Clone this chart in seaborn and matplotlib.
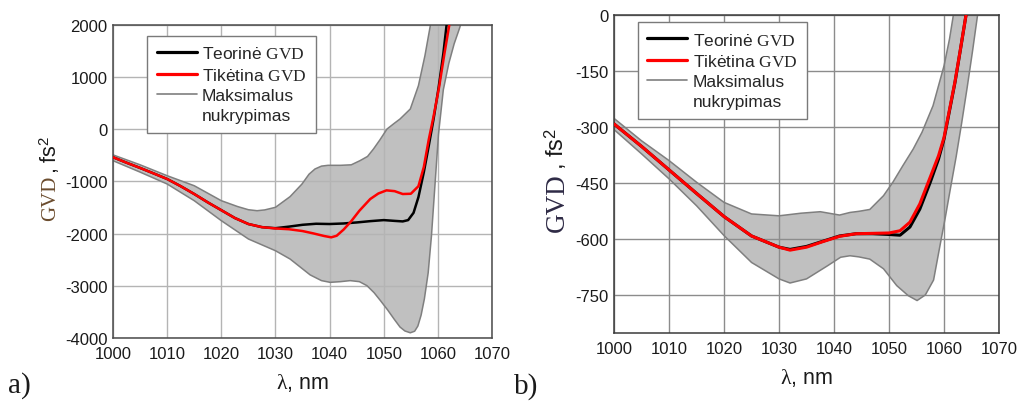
import numpy as np
import matplotlib
matplotlib.use("Agg")
import matplotlib.pyplot as plt
from matplotlib.lines import Line2D
from matplotlib.ticker import MultipleLocator
import seaborn as sns

# ---------------- data: panel a) ----------------
wl_a_theory = [1000, 1002.5, 1005, 1007.5, 1010, 1012.5, 1015, 1017.5, 1020, 1022.5, 1025, 1027.5,
               1030, 1032.5, 1035, 1037.5, 1040, 1042.5, 1045, 1047.5, 1050, 1052, 1053.5, 1054.5,
               1055.5, 1056.4, 1057.4, 1058.3, 1059.2, 1060.1, 1061, 1061.6, 1062.5]
gvd_a_theory = [-535, -640, -740, -845, -952, -1090, -1240, -1400, -1550, -1700, -1815, -1875,
                -1895, -1865, -1830, -1810, -1815, -1805, -1785, -1760, -1740, -1755, -1765, -1740,
                -1600, -1300, -820, -320, 200, 780, 1450, 2000, 2900]

wl_a_expected = [1000, 1002.5, 1005, 1007.5, 1010, 1012.5, 1015, 1017.5, 1020, 1022.5, 1025, 1027.5,
                 1030, 1032.5, 1035, 1037, 1039, 1040.3, 1041.3, 1042.6, 1044, 1045.5, 1047.5, 1049,
                 1050.5, 1052, 1053.5, 1055, 1056.4, 1057.4, 1058.3, 1059.2, 1060.2, 1061.2, 1062.1,
                 1063]
gvd_a_expected = [-535, -640, -740, -845, -952, -1090, -1240, -1400, -1550, -1700, -1815, -1875,
                  -1900, -1915, -1950, -1995, -2045, -2070, -2040, -1920, -1760, -1560, -1336, -1230,
                  -1170, -1185, -1240, -1235, -1090, -720, -200, 250, 800, 1450, 2000,
                  2800]

wl_a_upper = [1000, 1005, 1010, 1015, 1020, 1023, 1025, 1026.6, 1028, 1030, 1032.7, 1034.9, 1036.2,
              1037.3, 1038.5, 1039.7, 1042, 1044, 1045.6, 1047, 1048.1, 1049.3, 1050.6, 1052, 1053,
              1054.9, 1056.4, 1057.6, 1058.6, 1059.3]
gvd_a_upper = [-490, -680, -889, -1081, -1368, -1480, -1541, -1560, -1545, -1495, -1290, -1048, -860,
               -760, -705, -690, -690, -680, -601, -520, -377, -200, 6, 120, 198,
               390, 837, 1411, 1990, 2600]

wl_a_lower = [1000, 1005, 1010, 1015, 1020, 1025, 1030, 1032.7, 1036.4, 1038.5, 1040.1, 1042, 1043.8,
              1045.5, 1046.9, 1048.2, 1049.4, 1050.7, 1051.9, 1053, 1053.9, 1054.9, 1055.7, 1056.3,
              1056.9, 1057.5, 1058.2, 1058.8, 1059.4, 1060.1, 1061, 1062, 1063, 1064, 1065]
gvd_a_lower = [-601, -820, -1048, -1368, -1751, -2102, -2327, -2486, -2790, -2900, -2933, -2920, -2900,
               -2920, -2997, -3130, -3285, -3460, -3636, -3790, -3865, -3900, -3870, -3770,
               -3560, -3250, -2750, -2050, -1150, -100, 760, 1260, 1640, 1940, 2300]

# ---------------- data: panel b) ----------------
wl_b_lines = [1000, 1005, 1010, 1015, 1020, 1025, 1030, 1032, 1035, 1038, 1041, 1044, 1047, 1050,
              1052, 1053.8, 1055.6, 1057.5, 1059, 1060, 1062, 1063, 1064, 1065]
gvd_b_theory = [-292, -352, -415, -478, -540, -592, -622, -628, -620, -606, -592, -586, -586, -588,
                -590, -568, -520, -448, -386, -332, -180, -91, 0, 95]
gvd_b_expected = [-292, -352, -415, -478, -540, -592, -622, -630, -622, -607, -593, -586, -585, -584,
                  -578, -555, -506, -434, -377, -328, -178, -90, 0, 92]

wl_b_upper = [1000, 1005, 1010, 1015, 1020, 1025, 1030, 1034, 1037.5, 1041, 1042.9, 1044.5, 1046.5,
              1049, 1050.7, 1052.5, 1054.4, 1056, 1058, 1060, 1061, 1061.7, 1062.5]
gvd_b_upper = [-277, -337, -390, -448, -502, -533, -538, -531, -527, -536, -529, -526, -521,
               -484, -448, -404, -359, -314, -243, -136, -64, 0, 80]

wl_b_lower = [1000, 1005, 1010, 1015, 1020, 1025, 1030, 1032, 1035, 1038.8, 1041.2, 1042.9, 1044.5,
              1046.5, 1049, 1051.4, 1053.5, 1055.1, 1056.6, 1058.1, 1059.3, 1060.2, 1061.1, 1062.2,
              1063.2, 1064.2, 1065.2, 1066.1, 1067]
gvd_b_lower = [-307, -372, -439, -511, -591, -663, -707, -718, -707, -672, -649, -645, -648,
               -654, -680, -725, -752, -765, -750, -710, -615, -545, -470, -380,
               -290, -195, -95, 0, 100]

x_ticks = [1000, 1010, 1020, 1030, 1040, 1050, 1060, 1070]
legend_labels = ["Teorinė $\\mathrm{GVD}$", "Tikėtina $\\mathrm{GVD}$", "Maksimalus", "nukrypimas"]

# ---------------- style ----------------
sns.set_style("white")
plt.rcParams["font.family"] = ["Liberation Sans", "DejaVu Sans"]
plt.rcParams["mathtext.fontset"] = "custom"
plt.rcParams["mathtext.rm"] = "Liberation Serif"
plt.rcParams["mathtext.it"] = "Liberation Serif:italic"
plt.rcParams["mathtext.bf"] = "Liberation Serif:bold"
plt.rcParams["mathtext.sf"] = "Liberation Sans"
plt.rcParams["axes.unicode_minus"] = False

fig = plt.figure(figsize=(10.19, 4.06), dpi=100)
ax_a = fig.add_axes([0.1109, 0.165, 0.372, 0.771])
ax_b = fig.add_axes([0.6026, 0.1773, 0.3778, 0.7833])

FILL = "#c0c0c0"
EDGE = "#7f7f7f"


def draw_panel(ax, wl_up, up, wl_lo, lo, wl_t, th, wl_e, ex, lw_main):
    # band polygon (maximum deviation)
    ax.fill(np.concatenate([wl_up, wl_lo[::-1]]), np.concatenate([up, lo[::-1]]),
            color=FILL, zorder=1, lw=0)
    sns.lineplot(x=wl_up, y=up, ax=ax, color=EDGE, lw=1.1, zorder=1.6, sort=False)
    sns.lineplot(x=wl_lo, y=lo, ax=ax, color=EDGE, lw=1.1, zorder=1.6, sort=False)
    sns.lineplot(x=wl_t, y=th, ax=ax, color="black", lw=lw_main, zorder=3, sort=False)
    sns.lineplot(x=wl_e, y=ex, ax=ax, color="#ff0000", lw=lw_main, zorder=4, sort=False)


def style_axes(ax, ylim, ymajor, yminor, gridcolor, spinecolor):
    ax.set_xlim(1000, 1070)
    ax.set_ylim(*ylim)
    ax.set_xticks(x_ticks)
    ax.xaxis.set_minor_locator(MultipleLocator(5))
    ax.yaxis.set_major_locator(MultipleLocator(ymajor))
    ax.yaxis.set_minor_locator(MultipleLocator(yminor))
    ax.set_axisbelow("line")
    ax.grid(True, which="major", color=gridcolor, lw=1.0)
    ax.tick_params(which="both", direction="in", top=False, right=False,
                   colors="#303030", labelcolor="#1a1a1a", labelsize=12)
    ax.tick_params(which="major", length=5, width=1)
    ax.tick_params(which="minor", length=3.5, width=1)
    ax.tick_params(axis="x", pad=6)
    ax.tick_params(axis="y", pad=4)
    for s in ax.spines.values():
        s.set_color(spinecolor)
        s.set_linewidth(1.1)
        s.set_visible(True)
    ax.set_xlabel("$\\mathrm{\\lambda}$, nm", fontsize=15.5, labelpad=7, color="#1a1a1a")
    ax.set_ylabel("")


def add_legend(ax, anchor, fs):
    handles = [Line2D([], [], color="black", lw=2.3),
               Line2D([], [], color="#ff0000", lw=2.3),
               Line2D([], [], color=EDGE, lw=1.2),
               Line2D([], [], color="none", lw=0)]
    leg = ax.legend(handles, legend_labels, loc="upper left", bbox_to_anchor=anchor,
                    borderaxespad=0, fontsize=fs, frameon=True, fancybox=False,
                    handlelength=2.3, handletextpad=0.3, labelspacing=0.3,
                    borderpad=0.55)
    leg.get_frame().set_edgecolor("#7a7a7a")
    leg.get_frame().set_linewidth(1.0)
    leg.get_frame().set_alpha(1)
    leg.set_zorder(10)
    return leg


draw_panel(ax_a, np.array(wl_a_upper), np.array(gvd_a_upper), np.array(wl_a_lower),
           np.array(gvd_a_lower), wl_a_theory, gvd_a_theory, wl_a_expected, gvd_a_expected, 1.8)
style_axes(ax_a, (-4000, 2000), 1000, 500, "#b4b4b4", "#4a4a4a")
add_legend(ax_a, (0.09, 0.965), 12.5)

draw_panel(ax_b, np.array(wl_b_upper), np.array(gvd_b_upper), np.array(wl_b_lower),
           np.array(gvd_b_lower), wl_b_lines, gvd_b_theory, wl_b_lines, gvd_b_expected, 2.2)
style_axes(ax_b, (-852, 0), 150, 75, "#8c8c8c", "#3a3a3a")
add_legend(ax_b, (0.062, 0.978), 12.5)

# y-axis labels: serif "GVD" + sans ", fs^2"
W, H = 1019.0, 406.0
fig.text(51 / W, 1 - 198 / H, "GVD", rotation=90, ha="center", va="center",
         family="Liberation Serif", fontsize=15, color="#6b4c2e")
fig.text(50 / W, 1 - 174 / H, ", fs$^{\\mathsf{2}}$", rotation=90, ha="center", va="bottom",
         fontsize=15.5, color="#1a1a1a")
fig.text(557 / W, 1 - 203 / H, "GVD", rotation=90, ha="center", va="center",
         family="Liberation Serif", fontsize=19.5, color="#2e2a45")
fig.text(556 / W, 1 - 170 / H, ", fs$^{\\mathsf{2}}$", rotation=90, ha="center", va="bottom",
         fontsize=17, color="#1a1a1a")

# panel letters
fig.text(8 / W, 1 - 386 / H, "a)", ha="left", va="center", family="Liberation Serif",
         fontsize=21, color="#1a1a1a")
fig.text(514 / W, 1 - 387 / H, "b)", ha="left", va="center", family="Liberation Serif",
         fontsize=21, color="#1a1a1a")

fig.savefig("out.png", dpi=100)
